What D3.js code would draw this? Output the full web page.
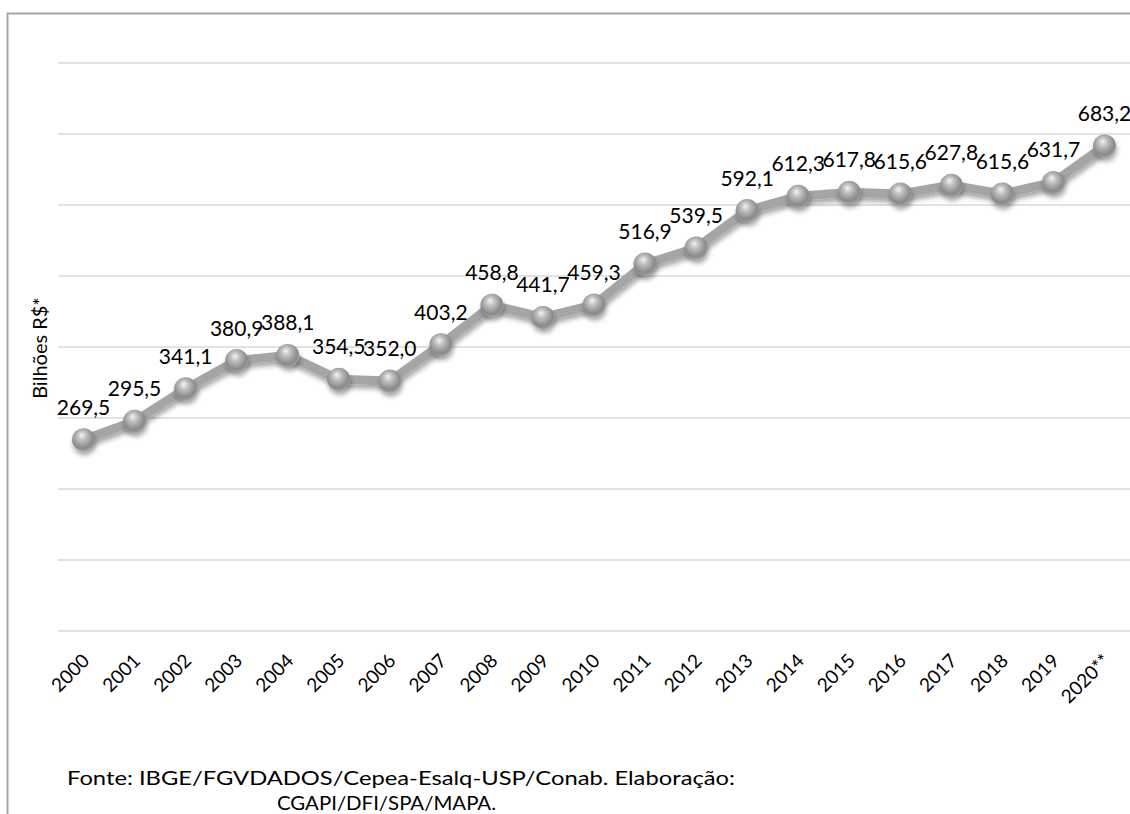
<!DOCTYPE html>
<html>
<head>
<meta charset="utf-8">
<script src="https://cdn.jsdelivr.net/npm/d3@7"></script>
<style>
  body { margin: 0; background: #fff; }
  svg text { font-family: Lato, "Open Sans", sans-serif; fill: #000; }
</style>
</head>
<body>
<div id="chart"></div>
<script>
// Data
var years = ["2000", "2001", "2002", "2003", "2004", "2005", "2006", "2007", "2008", "2009", "2010",
             "2011", "2012", "2013", "2014", "2015", "2016", "2017", "2018", "2019", "2020**"];
var values = [269.5, 295.5, 341.1, 380.9, 388.1, 354.5, 352.0, 403.2, 458.8, 441.7, 459.3,
              516.9, 539.5, 592.1, 612.3, 617.8, 615.6, 627.8, 615.6, 631.7, 683.2];
var yTicks = [0, 100, 200, 300, 400, 500, 600, 700, 800];
var yTitle = "Bilhões R$*";
var sourceLines = ["Fonte: IBGE/FGVDADOS/Cepea-Esalq-USP/Conab. Elaboração:", "CGAPI/DFI/SPA/MAPA."];

var svgWidth = 1130;
var svgHeight = 814;

var margin = { top: 63, right: 0, bottom: 183, left: 58 };
var width = svgWidth - margin.left - margin.right;
var height = svgHeight - margin.top - margin.bottom;

var svg = d3.select("#chart")
    .append("svg")
    .attr("width", svgWidth)
    .attr("height", svgHeight);

// outer frame (right and bottom edges fall outside the picture)
svg.append("rect")
    .attr("x", 7.5)
    .attr("y", 13.5)
    .attr("width", svgWidth + 20)
    .attr("height", svgHeight + 20)
    .attr("fill", "none")
    .attr("stroke", "#a6a6a6")
    .attr("stroke-width", 2);

var defs = svg.append("defs");

var ball = defs.append("radialGradient")
    .attr("id", "ball")
    .attr("cx", "45%").attr("cy", "40%").attr("r", "60%")
    .attr("fx", "42%").attr("fy", "30%");
ball.append("stop").attr("offset", "0%").attr("stop-color", "#f4f4f4");
ball.append("stop").attr("offset", "35%").attr("stop-color", "#bdbdbd");
ball.append("stop").attr("offset", "80%").attr("stop-color", "#8a8a8a");
ball.append("stop").attr("offset", "100%").attr("stop-color", "#9c9c9c");

var shadow = defs.append("filter")
    .attr("id", "shadow")
    .attr("x", "-50%").attr("y", "-50%").attr("width", "200%").attr("height", "200%");
shadow.append("feGaussianBlur").attr("in", "SourceAlpha").attr("stdDeviation", 2.5);
shadow.append("feOffset").attr("dx", 1).attr("dy", 4).attr("result", "blur");
shadow.append("feComponentTransfer").append("feFuncA").attr("type", "linear").attr("slope", 0.35);
var merge = shadow.append("feMerge");
merge.append("feMergeNode");
merge.append("feMergeNode").attr("in", "SourceGraphic");

var chartGroup = svg.append("g")
    .attr("transform", `translate(${margin.left}, ${margin.top})`);

var xScale = d3.scaleBand()
    .domain(years)
    .range([0, width]);

var yScale = d3.scaleLinear()
    .domain([0, 800])
    .range([height, 0]);

// gridlines
chartGroup.append("g")
    .selectAll("line")
    .data(yTicks)
    .enter()
    .append("line")
    .attr("x1", 0)
    .attr("x2", width + 10)
    .attr("y1", d => yScale(d))
    .attr("y2", d => yScale(d))
    .attr("stroke", "#d9d9d9")
    .attr("stroke-width", 1.5);

// x axis labels (no ticks, no domain line)
var bottomAxis = d3.axisBottom(xScale).tickSize(0).tickPadding(0);
var xAxisG = chartGroup.append("g")
    .attr("transform", `translate(0, ${height})`)
    .call(bottomAxis);
xAxisG.select(".domain").remove();
xAxisG.selectAll("text")
    .attr("font-family", "Lato, 'Open Sans', sans-serif")
    .attr("font-size", 19)
    .attr("fill", "#000")
    .attr("dy", 0)
    .attr("text-anchor", "end")
    .attr("transform", "translate(7, 31) rotate(-45)");

// line
var line = d3.line()
    .x((d, i) => xScale(years[i]) + xScale.bandwidth() / 2)
    .y(d => yScale(d));

chartGroup.append("path")
    .datum(values)
    .attr("d", line)
    .attr("fill", "none")
    .attr("stroke", "#a5a5a5")
    .attr("stroke-width", 9)
    .attr("stroke-linejoin", "round")
    .attr("filter", "url(#shadow)");

// markers
chartGroup.selectAll("circle")
    .data(values)
    .enter()
    .append("circle")
    .attr("cx", (d, i) => xScale(years[i]) + xScale.bandwidth() / 2)
    .attr("cy", d => yScale(d))
    .attr("r", 11.5)
    .attr("fill", "url(#ball)")
    .attr("filter", "url(#shadow)");

// data labels
chartGroup.selectAll(".valueLabel")
    .data(values)
    .enter()
    .append("text")
    .attr("class", "valueLabel")
    .attr("x", (d, i) => xScale(years[i]) + xScale.bandwidth() / 2)
    .attr("y", d => yScale(d) - 25)
    .attr("text-anchor", "middle")
    .attr("font-size", 21)
    .text(d => d3.format(".1f")(d).replace(".", ","));

// y axis title
svg.append("text")
    .attr("transform", "translate(47, 348) rotate(-90)")
    .attr("text-anchor", "middle")
    .attr("font-size", 20)
    .text(yTitle);

// source note
svg.append("text")
    .attr("x", 67)
    .attr("y", 785)
    .attr("font-family", "'Open Sans', sans-serif")
    .attr("font-size", 20)
    .attr("textLength", 668)
    .attr("lengthAdjust", "spacingAndGlyphs")
    .text(sourceLines[0]);
svg.append("text")
    .attr("x", 277)
    .attr("y", 810)
    .attr("font-family", "'Open Sans', sans-serif")
    .attr("font-size", 20)
    .attr("textLength", 219)
    .attr("lengthAdjust", "spacingAndGlyphs")
    .text(sourceLines[1]);
</script>
</body>
</html>
